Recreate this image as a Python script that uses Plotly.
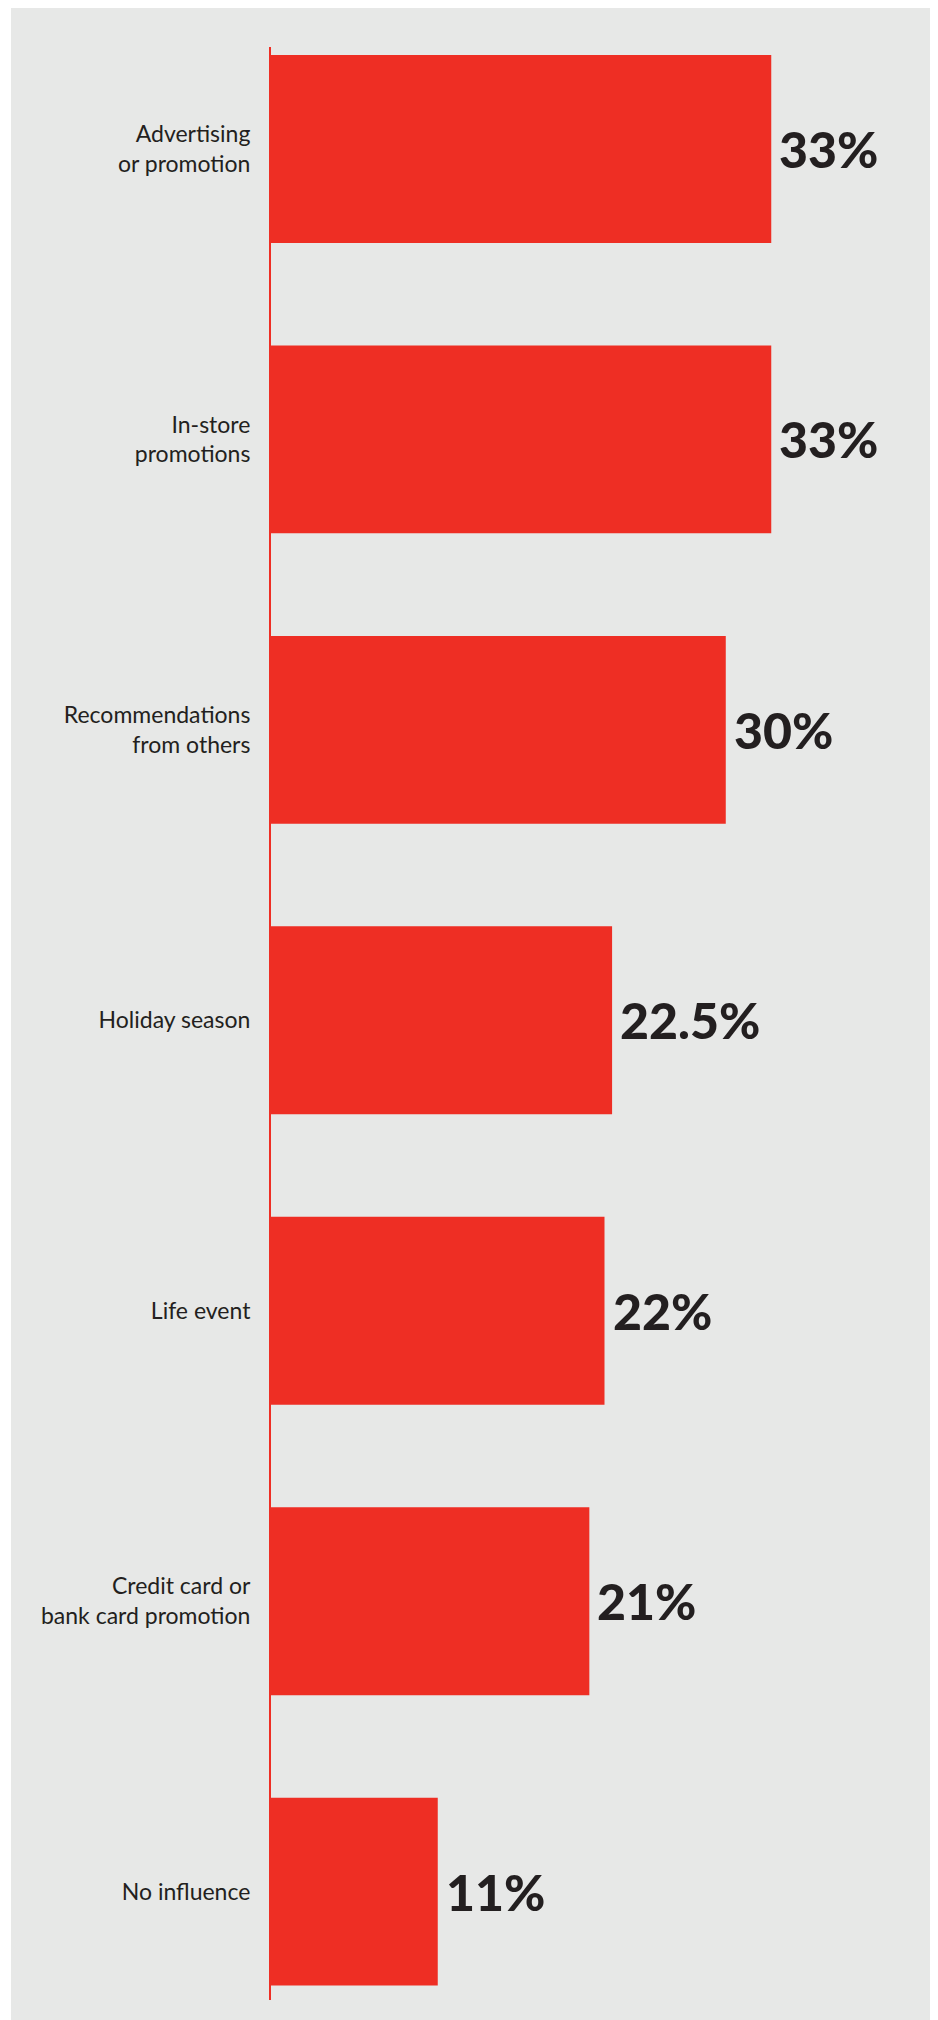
import plotly.graph_objects as go

categories = [
    "Advertising<br>or promotion",
    "In-store<br>promotions",
    "Recommendations<br>from others",
    "Holiday season",
    "Life event",
    "Credit card or<br>bank card promotion",
    "No influence",
]
values = [33, 33, 30, 22.5, 22, 21, 11]
value_labels = ["33%", "33%", "30%", "22.5%", "22%", "21%", "11%"]

RED = "#EE2E24"
BG = "#E7E8E7"
TEXT = "#231F20"

W, H = 938, 2020
L, R, T, B = 263, 8, 39, 28
pw, ph = W - L - R, H - T - B


def px_x(px):
    return (px - L) / pw


def px_y(py):
    return (H - B - py) / ph


fig = go.Figure()
fig.add_trace(go.Bar(
    x=values, y=categories, orientation="h",
    marker=dict(color=RED, line=dict(width=0)),
    width=0.647,
    cliponaxis=False,
    hoverinfo="skip",
))

for v, c, lab in zip(values, categories, value_labels):
    fig.add_annotation(
        x=v, y=c, text=lab, showarrow=False,
        xanchor="left", yanchor="middle", xshift=6,
        font=dict(family="Lato", size=50, color=TEXT, weight=900),
    )

# grey panel (figure inset slightly from the left edge)
fig.add_shape(type="rect", xref="paper", yref="paper",
              x0=px_x(3), x1=px_x(W + 20), y0=px_y(H + 20), y1=px_y(0),
              fillcolor=BG, line=dict(width=0), layer="below")

fig.update_layout(
    width=W, height=H,
    margin=dict(l=L, r=R, t=T, b=B, pad=0),
    paper_bgcolor="white",
    plot_bgcolor="rgba(0,0,0,0)",
    showlegend=False,
    xaxis=dict(range=[0, 44], visible=False, showgrid=False, zeroline=False),
    yaxis=dict(
        range=[6.373, -0.351],
        showline=True, linecolor=RED, linewidth=2,
        showgrid=False, zeroline=False,
        ticks="outside", ticklen=14, tickcolor="rgba(0,0,0,0)",
        tickfont=dict(family="Lato", size=23, color=TEXT),
    ),
)

fig.write_html("out.html")
